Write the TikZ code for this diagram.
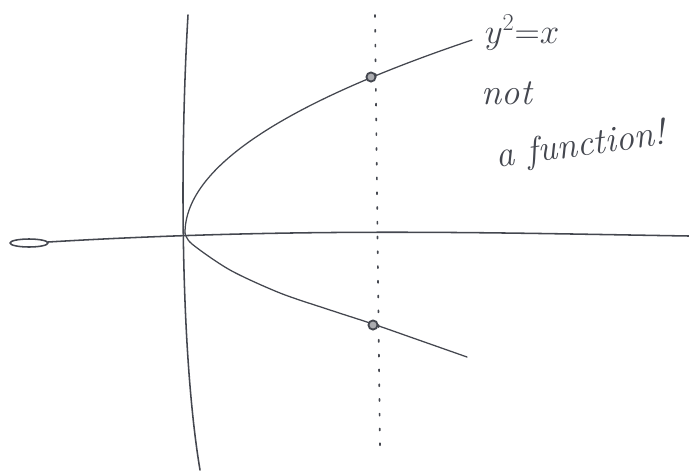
\documentclass[tikz,border=0pt]{standalone}
\usepackage{amsmath,amssymb}
\usepackage{tikz}
\usetikzlibrary{arrows.meta,positioning,calc}
\definecolor{pencil}{HTML}{44474F}
\tikzset{
  sketch/.style={draw=pencil, line width=1.1pt, line cap=round, line join=round},
  curve/.style={draw=pencil, line width=0.9pt, line cap=round, line join=round},
  guide/.style={draw=pencil, line width=1.2pt, line cap=round, dash pattern=on 1.5pt off 9pt},
  hitdot/.style={circle, draw=pencil, fill=pencil!45, line width=1.3pt, inner sep=0pt, minimum size=6.5pt},
  handtext/.style={text=pencil, inner sep=1pt, font=\fontsize{26}{30}\selectfont\itshape}
}

\begin{document}
\begin{tikzpicture}[x=0.025cm,y=-0.025cm,every node/.style={align=center}]
  \useasboundingbox (0,0) rectangle (689,475);
  % axes
  \draw[sketch] (188,15) .. controls (180,150) and (180,350) .. (200,470);
  \draw[sketch] (29,243) ellipse (19 and 4);
  \draw[sketch] (48,242) .. controls (300,227) and (500,233) .. (689,236);
  % the two branches
  \draw[curve] plot[domain=0:193, samples=60, smooth] ({185+0.0077*\x*\x},{233-\x});
  \draw[curve] plot[smooth] coordinates {(185,233) (192,244) (230,270) (280,293) (330,310) (373,324) (413,338) (467,357)};
  % vertical line test
  \coordinate (vtop) at (375,15);
  \coordinate (vbot) at (380,450);
  \draw[guide] (vtop) -- (vbot);
  \foreach \p/\n in {(371,77)/upper,(373,325)/lower}
    \node[hitdot] (\n) at \p {};
  % labels
  \node[handtext, anchor=base] (eqn) at (522,43) {$y^2{=}x$};
  \node[handtext, anchor=base] (nota) at (507,104) {not};
  \node[handtext, anchor=base, rotate=8] (func) at (582,156) {a function!};
\end{tikzpicture}
\end{document}
